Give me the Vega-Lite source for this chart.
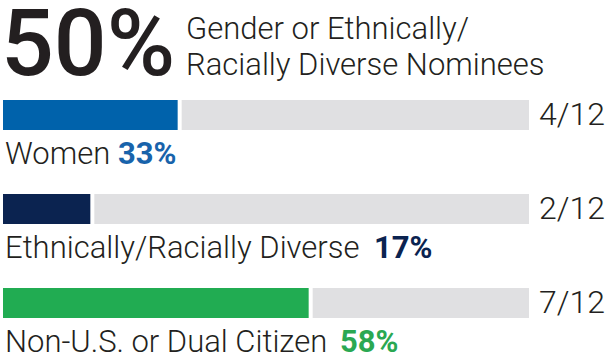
{
  "$schema": "https://vega.github.io/schema/vega-lite/v6.json",
  "width": 609,
  "height": 360,
  "autosize": {"type": "fit", "contains": "padding"},
  "padding": 0,
  "background": "white",
  "config": {"view": {"stroke": null}, "font": "Roboto"},
  "datasets": {
    "rows": [
      {"row": "Women", "n": 4, "total": 12, "frac": "4/12", "pct": "33%"},
      {"row": "Ethnically/Racially Diverse", "n": 2, "total": 12, "frac": "2/12", "pct": "17%"},
      {"row": "Non-U.S. or Dual Citizen", "n": 7, "total": 12, "frac": "7/12", "pct": "58%"}
    ],
    "header": [
      {"row": "header", "big": "50%", "desc": "Gender or Ethnically/\nRacially Diverse Nominees"}
    ]
  },
  "layer": [
    {
      "data": {"name": "rows"},
      "mark": {"type": "bar", "height": 30, "color": "#e0e0e2", "xOffset": 2},
      "encoding": {
        "x": {"field": "n", "type": "quantitative", "axis": null, "scale": {"domain": [0, 12], "range": [5, 529], "nice": false, "zero": false}},
        "x2": {"field": "total"},
        "y": {"field": "row", "type": "nominal", "axis": null, "sort": null,
              "scale": {"domain": ["header", "Women", "Ethnically/Racially Diverse", "Non-U.S. or Dual Citizen"], "range": [-26, 350], "paddingInner": 0, "paddingOuter": 0}}
      }
    },
    {
      "data": {"name": "rows"},
      "mark": {"type": "bar", "height": 30, "xOffset": -2},
      "encoding": {
        "x": {"field": "n", "type": "quantitative"},
        "y": {"field": "row", "type": "nominal"},
        "color": {"field": "row", "type": "nominal", "legend": null,
                  "scale": {"domain": ["Women", "Ethnically/Racially Diverse", "Non-U.S. or Dual Citizen"], "range": ["#0062ab", "#0b2350", "#21ac52"]}}
      }
    },
    {
      "data": {"name": "rows"},
      "mark": {"type": "text", "align": "right", "baseline": "middle", "dx": 76, "fontSize": 32, "fontWeight": 300, "color": "#231f20"},
      "encoding": {
        "x": {"field": "total", "type": "quantitative"},
        "y": {"field": "row", "type": "nominal"},
        "text": {"field": "frac"}
      }
    },
    {
      "data": {"name": "rows"},
      "mark": {"type": "text", "align": "left", "baseline": "alphabetic", "dy": 49, "fontSize": 31, "fontWeight": 300, "color": "#231f20"},
      "encoding": {
        "x": {"datum": 0, "type": "quantitative"},
        "y": {"field": "row", "type": "nominal"},
        "text": {"field": "row"}
      }
    },
    {
      "data": {"name": "rows"},
      "transform": [{"filter": "datum.row === 'Women'"}],
      "mark": {"type": "text", "align": "left", "baseline": "alphabetic", "dx": 113, "dy": 49, "fontSize": 31, "fontWeight": 700, "color": "#1863ab"},
      "encoding": {
        "x": {"datum": 0, "type": "quantitative"},
        "y": {"field": "row", "type": "nominal"},
        "text": {"field": "pct"}
      }
    },
    {
      "data": {"name": "rows"},
      "transform": [{"filter": "datum.row === 'Ethnically/Racially Diverse'"}],
      "mark": {"type": "text", "align": "left", "baseline": "alphabetic", "dx": 369, "dy": 49, "fontSize": 31, "fontWeight": 700, "color": "#0b2350"},
      "encoding": {
        "x": {"datum": 0, "type": "quantitative"},
        "y": {"field": "row", "type": "nominal"},
        "text": {"field": "pct"}
      }
    },
    {
      "data": {"name": "rows"},
      "transform": [{"filter": "datum.row === 'Non-U.S. or Dual Citizen'"}],
      "mark": {"type": "text", "align": "left", "baseline": "alphabetic", "dx": 335, "dy": 49, "fontSize": 31, "fontWeight": 700, "color": "#2aa852"},
      "encoding": {
        "x": {"datum": 0, "type": "quantitative"},
        "y": {"field": "row", "type": "nominal"},
        "text": {"field": "pct"}
      }
    },
    {
      "data": {"name": "header"},
      "mark": {"type": "text", "align": "left", "baseline": "alphabetic", "dx": -4, "dy": 54, "fontSize": 93, "fontWeight": 500, "color": "#231f20"},
      "encoding": {
        "x": {"datum": 0, "type": "quantitative"},
        "y": {"field": "row", "type": "nominal"},
        "text": {"field": "big"}
      }
    },
    {
      "data": {"name": "header"},
      "mark": {"type": "text", "align": "left", "baseline": "alphabetic", "dx": 181, "dy": 18, "fontSize": 31, "fontWeight": 300, "lineHeight": 36, "lineBreak": "\n", "color": "#231f20"},
      "encoding": {
        "x": {"datum": 0, "type": "quantitative"},
        "y": {"field": "row", "type": "nominal"},
        "text": {"field": "desc"}
      }
    }
  ]
}
